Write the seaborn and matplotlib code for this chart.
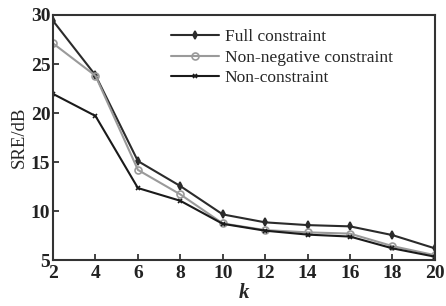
import matplotlib
matplotlib.use("Agg")
import matplotlib.pyplot as plt
import seaborn as sns
import pandas as pd

k = [2, 4, 6, 8, 10, 12, 14, 16, 18, 20]
full = [29.4, 23.85, 15.1, 12.55, 9.66, 8.85, 8.57, 8.44, 7.55, 6.2]
nonneg = [27.1, 23.8, 14.2, 11.7, 8.74, 8.06, 7.83, 7.7, 6.43, 5.5]
noncons = [21.95, 19.7, 12.35, 11.05, 8.7, 8.0, 7.6, 7.4, 6.2, 5.35]
names = ["Full constraint", "Non-negative constraint", "Non-constraint"]
yticks = [5, 10, 15, 20, 25, 30]
xticks = [2, 4, 6, 8, 10, 12, 14, 16, 18, 20]

sns.set_theme(style="white")
plt.rcParams['font.family'] = ['Liberation Serif', 'DejaVu Serif']

df = pd.DataFrame({
    "k": k * 3,
    "SRE": full + nonneg + noncons,
    "series": [names[0]] * len(k) + [names[1]] * len(k) + [names[2]] * len(k),
})

fig = plt.figure(figsize=(4.46, 3.06), dpi=100)
ax = fig.add_axes([0.119, 0.150, 0.856, 0.801])

palette = {names[0]: "#2b2b2b", names[1]: "#9a9a9a", names[2]: "#1a1a1a"}
markers = {names[0]: "d", names[1]: "o", names[2]: "x"}
sizes = {names[0]: 4, names[1]: 5, names[2]: 3.5}
for n in names:
    sub = df[df["series"] == n]
    sns.lineplot(data=sub, x="k", y="SRE", ax=ax, color=palette[n],
                 marker=markers[n], markersize=sizes[n], linewidth=1.5,
                 markerfacecolor=("none" if n == names[1] else palette[n]),
                 markeredgecolor=palette[n], markeredgewidth=1.2, label=n)

ax.set_xlim(2, 20)
ax.set_ylim(5, 30)
ax.set_xticks(xticks)
ax.set_yticks(yticks)
ax.tick_params(direction="in", length=4, width=1.2, colors="#222222",
               labelsize=14, top=False, right=False, bottom=True, left=True)
ax.tick_params(axis="x", pad=3.5)
ax.tick_params(axis="y", pad=2)
for lab in ax.get_xticklabels() + ax.get_yticklabels():
    lab.set_fontweight("bold")
for s in ax.spines.values():
    s.set_color("#333333")
    s.set_linewidth(1.5)
ax.set_xlabel("k", fontsize=15, fontstyle="italic", fontweight="bold", labelpad=1)
ax.set_ylabel("SRE/dB", fontsize=13.5, labelpad=2)
leg = ax.legend(loc="upper left", bbox_to_anchor=(0.29, 0.97), frameon=False,
                fontsize=12.5, handlelength=2.8, handletextpad=0.3,
                labelspacing=0.25, borderaxespad=0)
fig.savefig("out.png", dpi=100)
